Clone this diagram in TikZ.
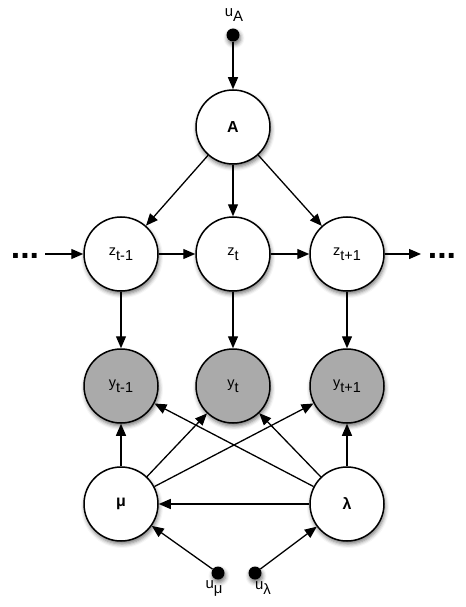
\documentclass[tikz,border=0pt]{standalone}
\usepackage{fontspec}
\setmainfont{Liberation Sans}
\usetikzlibrary{arrows.meta,shadows.blur}
\definecolor{obsgray}{RGB}{170,170,170}
\newcommand\lowsub[1]{\raisebox{-5bp}{#1}}
\tikzset{
  shade/.style={blur shadow={shadow xshift=1bp, shadow yshift=-3bp, shadow blur radius=4bp, shadow opacity=55}},
  var/.style={circle, draw, line width=1.5bp, minimum size=74bp, inner sep=0pt, fill=white, shade,
              font=\fontsize{14.5}{14.5}\selectfont},
  obs/.style={var, fill=obsgray},
  param/.style={var, font=\fontsize{16}{16}\selectfont\bfseries},
  hyper/.style={circle, fill=black, minimum size=13bp, inner sep=0pt, shade},
  lbl/.style={font=\fontsize{15}{15}\selectfont, inner sep=0pt},
  dotsn/.style={font=\fontsize{34}{34}\selectfont\bfseries, inner sep=0pt},
  arr/.style={-{Triangle[length=12bp,width=10bp]}, line width=1.3bp},
}
\begin{document}
\begin{tikzpicture}[x=1bp,y=-1bp]
\useasboundingbox (0,0) rectangle (466,607);
% nodes
\node[hyper] (uA) at (233,35) {};
\node[lbl] (uAl) at (234,15) {u\lowsub{A}};
\node[param] (A) at (233,127) {A};
\node[var] (z1) at (121,254) {z\lowsub{t-1}};
\node[var] (z2) at (233,254) {z\lowsub{t}};
\node[var] (z3) at (347,254) {z\lowsub{t+1}};
\node[dotsn] (dl) at (25,256) {...};
\node[dotsn] (dr) at (442,256) {...};
\coordinate (dle) at (45,254);
\coordinate (dre) at (421,254);
\node[obs] (y1) at (121,386) {y\lowsub{t-1}};
\node[obs] (y2) at (233,386) {y\lowsub{t}};
\node[obs] (y3) at (347,386) {y\lowsub{t+1}};
\node[param] (mu) at (121,504) {μ};
\node[param] (la) at (347,504) {λ};
\node[hyper] (umu) at (218,573) {};
\node[hyper] (ula) at (255,573) {};
\node[lbl] (umul) at (214,588) {u\lowsub{μ}};
\node[lbl] (ulal) at (263,588) {u\lowsub{λ}};
% edges
\draw[arr] (uA) -- (A);
\draw[arr] (A) -- (z1);
\draw[arr] (A) -- (z2);
\draw[arr] (A) -- (z3);
\draw[arr] (dle) -- (z1);
\draw[arr] (z1) -- (z2);
\draw[arr] (z2) -- (z3);
\draw[arr] (z3) -- (dre);
\draw[arr] (z1) -- (y1);
\draw[arr] (z2) -- (y2);
\draw[arr] (z3) -- (y3);
\draw[arr] (mu) -- (y1);
\draw[arr] (mu) -- (y2);
\draw[arr] (mu) -- (y3);
\draw[arr] (la) -- (y3);
\draw[arr] (la) -- (y2);
\draw[arr] (la) -- (y1);
\draw[arr] (la) -- (mu);
\draw[arr] (umu) -- (mu);
\draw[arr] (ula) -- (la);
\end{tikzpicture}
\end{document}
